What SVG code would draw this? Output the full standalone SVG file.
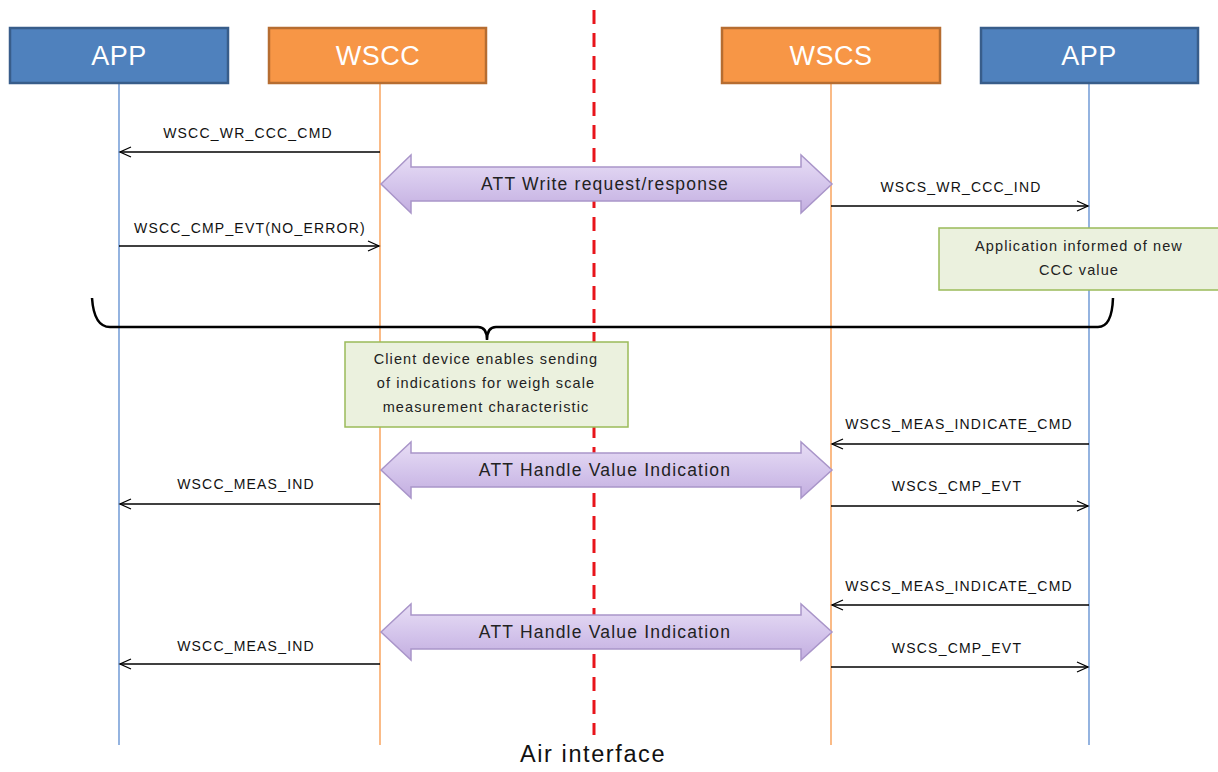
<svg xmlns="http://www.w3.org/2000/svg" width="1218" height="772" viewBox="0 0 1218 772">
<style>
.hdr{font-family:"Liberation Sans",Arial,sans-serif;font-size:27px;fill:#fff;text-anchor:middle;letter-spacing:0.5px}
.lbl{font-family:"Liberation Sans",Arial,sans-serif;font-size:14px;fill:#111;text-anchor:middle;letter-spacing:1.2px}
.big{font-family:"Liberation Sans",Arial,sans-serif;font-size:17.5px;fill:#222;text-anchor:middle;letter-spacing:1.2px}
.note{font-family:"Liberation Sans",Arial,sans-serif;font-size:14.5px;fill:#222;text-anchor:middle;letter-spacing:1.1px}
.blue{fill:#4F81BD;stroke:#385D8A;stroke-width:2.5}
.orange{fill:#F79646;stroke:#B66D31;stroke-width:2.5}
.ll-b{stroke:#5B8BD0;stroke-width:1.3}
.ll-o{stroke:#F79646;stroke-width:1.3}
.msg{stroke:#000;stroke-width:1.3;fill:none}
.dbl{fill:url(#lav);stroke:#A995C9;stroke-width:1.5}
.nbox{fill:#EBF1DE;stroke:#9BBB59;stroke-width:1.5}
</style>
<defs>
<linearGradient id="lav" x1="0" y1="0" x2="0" y2="1">
<stop offset="0" stop-color="#E8DEF5"/>
<stop offset="0.5" stop-color="#D5C6EC"/>
<stop offset="1" stop-color="#C3AEE0"/>
</linearGradient>
<marker id="ah" markerWidth="14" markerHeight="12" refX="12" refY="6" orient="auto" markerUnits="userSpaceOnUse">
<path d="M1,1 L12,6 L1,11" fill="none" stroke="#000" stroke-width="1.3"/>
</marker>
</defs>
<rect width="1218" height="772" fill="#fff"/>

<g id="lifelines">
<line class="ll-b" x1="119" y1="84" x2="119" y2="745"/>
<line class="ll-o" x1="380" y1="84" x2="380" y2="745"/>
<line class="ll-o" x1="831" y1="84" x2="831" y2="745"/>
<line class="ll-b" x1="1089" y1="84" x2="1089" y2="745"/>
</g>

<g id="air-interface">
<line x1="594" y1="10" x2="594" y2="735" stroke="#E8141B" stroke-width="3" stroke-dasharray="14,9"/>
<text x="593" y="762" font-family="Liberation Sans,Arial,sans-serif" font-size="23.5" fill="#111" text-anchor="middle" letter-spacing="1.6">Air interface</text>
</g>

<g id="app-left"><rect class="blue" x="10" y="28" width="218" height="55"/><text class="hdr" x="119" y="65">APP</text></g>
<g id="wscc"><rect class="orange" x="269" y="28" width="217" height="55"/><text class="hdr" x="378" y="65">WSCC</text></g>
<g id="wscs"><rect class="orange" x="722" y="28" width="218" height="55"/><text class="hdr" x="831" y="65">WSCS</text></g>
<g id="app-right"><rect class="blue" x="981" y="28" width="217" height="55"/><text class="hdr" x="1089" y="65">APP</text></g>

<g id="connectors">
<line class="msg" x1="380" y1="152" x2="120" y2="152" marker-end="url(#ah)"/>
<text class="lbl" x="248" y="138">WSCC_WR_CCC_CMD</text>
<line class="msg" x1="119" y1="246" x2="379" y2="246" marker-end="url(#ah)"/>
<text class="lbl" x="250" y="233">WSCC_CMP_EVT(NO_ERROR)</text>
<line class="msg" x1="831" y1="206" x2="1088" y2="206" marker-end="url(#ah)"/>
<text class="lbl" x="961" y="192">WSCS_WR_CCC_IND</text>

<line class="msg" x1="1089" y1="444" x2="832" y2="444" marker-end="url(#ah)"/>
<text class="lbl" x="959" y="429">WSCS_MEAS_INDICATE_CMD</text>
<line class="msg" x1="380" y1="504" x2="120" y2="504" marker-end="url(#ah)"/>
<text class="lbl" x="246" y="489">WSCC_MEAS_IND</text>
<line class="msg" x1="831" y1="506" x2="1088" y2="506" marker-end="url(#ah)"/>
<text class="lbl" x="957" y="491">WSCS_CMP_EVT</text>

<line class="msg" x1="1089" y1="605" x2="832" y2="605" marker-end="url(#ah)"/>
<text class="lbl" x="959" y="591">WSCS_MEAS_INDICATE_CMD</text>
<line class="msg" x1="380" y1="664" x2="120" y2="664" marker-end="url(#ah)"/>
<text class="lbl" x="246" y="651">WSCC_MEAS_IND</text>
<line class="msg" x1="831" y1="667" x2="1088" y2="667" marker-end="url(#ah)"/>
<text class="lbl" x="957" y="653">WSCS_CMP_EVT</text>

<path d="M92,298 Q94,327 110,327 L478,327 Q487,327 487,340 Q487,327 496,327 L1098,327 Q1112,327 1113,298" fill="none" stroke="#000" stroke-width="2.5"/>
</g>

<g id="att-write">
<path class="dbl" d="M381,184 L411,155 L411,167 L801,167 L801,155 L832,184 L801,213 L801,201 L411,201 L411,213 Z"/>
<text class="big" x="605" y="190">ATT Write request/response</text>
</g>
<g id="att-hvi-1">
<path class="dbl" d="M381,470 L411,442 L411,453 L801,453 L801,442 L832,470 L801,498 L801,487 L411,487 L411,498 Z"/>
<text class="big" x="605" y="476">ATT Handle Value Indication</text>
</g>
<g id="att-hvi-2">
<path class="dbl" d="M381,632 L411,604 L411,615 L801,615 L801,604 L832,632 L801,660 L801,649 L411,649 L411,660 Z"/>
<text class="big" x="605" y="638">ATT Handle Value Indication</text>
</g>

<g id="note-app">
<rect class="nbox" x="939" y="228" width="280" height="62"/>
<text class="note" x="1079" y="251">Application informed  of new</text>
<text class="note" x="1079" y="275">CCC value</text>
</g>
<g id="note-client">
<rect class="nbox" x="345" y="342" width="283" height="85"/>
<text class="note" x="486" y="364">Client device enables sending</text>
<text class="note" x="486" y="388">of indications for weigh scale</text>
<text class="note" x="486" y="412">measurement characteristic</text>
</g>
</svg>
